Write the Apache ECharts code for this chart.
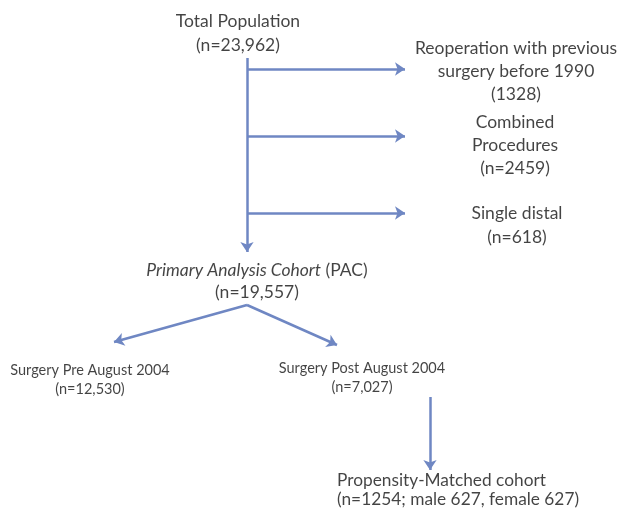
<!DOCTYPE html>
<html>
<head>
<meta charset="utf-8">
<script src="https://cdn.jsdelivr.net/npm/echarts@6/dist/echarts.min.js"></script>
<style>
html,body{margin:0;padding:0;background:#fff;}
#chart{width:628px;height:508px;}
</style>
</head>
<body>
<div id="chart"></div>
<script>
// Box texts
const nodeLabels = [
  'Total Population\n(n=23,962)',
  'Reoperation with previous\nsurgery before 1990\n(1328)',
  'Combined\nProcedures\n(n=2459)',
  'Single distal\n(n=618)',
  '{i|Primary Analysis Cohort} (PAC)\n(n=19,557)',
  'Surgery Pre August 2004\n(n=12,530)',
  'Surgery Post August 2004\n(n=7,027)',
  'Propensity-Matched cohort\n(n=1254; male 627, female 627)'
];
// Box anchor positions (flowchart layout coordinates)
const nodeX = [238, 516, 515, 517, 257, 90, 362, 337];
const nodeY = [33, 71, 145, 225, 281, 380, 378, 490];
const nodeAlign = ['center','center','center','center','center','center','center','left'];
const nodeLineH = [24, 23, 23, 24, 22, 19, 19, 19];
const nodeFont = [17.5, 17.5, 17.5, 17.5, 17.5, 14.5, 14.5, 17.3];
// Connectors: start and end points
const edgeFrom = [[247,58],[247,69],[247,136],[247,213],[247,305],[247,305],[430,397]];
const edgeTo   = [[247,252],[405,69],[405,136],[405,213],[114,342],[337,345],[430,470]];

const lineColor = '#6f87c3';
const textColor = '#141414';

const chart = echarts.init(document.getElementById('chart'));
chart.setOption({
  backgroundColor: '#ffffff',
  animation: false,
  grid: {left: 0, right: 0, top: 0, bottom: 0},
  xAxis: {type: 'value', min: 0, max: 628, show: false},
  yAxis: {type: 'value', min: 0, max: 508, inverse: true, show: false},
  series: [
    {
      type: 'lines',
      coordinateSystem: 'cartesian2d',
      polyline: false,
      symbol: ['none', 'arrow'],
      symbolSize: [0, 10],
      lineStyle: {color: lineColor, width: 2.5, opacity: 1, curveness: 0},
      data: edgeFrom.map((p, i) => ({coords: [p, edgeTo[i]]}))
    },
    {
      type: 'scatter',
      symbolSize: 0,
      silent: true,
      data: nodeLabels.map((t, i) => ({
        value: [nodeX[i], nodeY[i]],
        label: {
          show: true,
          position: 'inside',
          formatter: t,
          align: nodeAlign[i],
          verticalAlign: 'middle',
          lineHeight: nodeLineH[i],
          fontFamily: 'Lato',
          fontSize: nodeFont[i],
          color: textColor,
          rich: {
            i: {fontStyle: 'italic', fontFamily: 'Lato', fontSize: nodeFont[i], color: textColor, lineHeight: nodeLineH[i]}
          }
        }
      }))
    }
  ]
});
</script>
</body>
</html>
